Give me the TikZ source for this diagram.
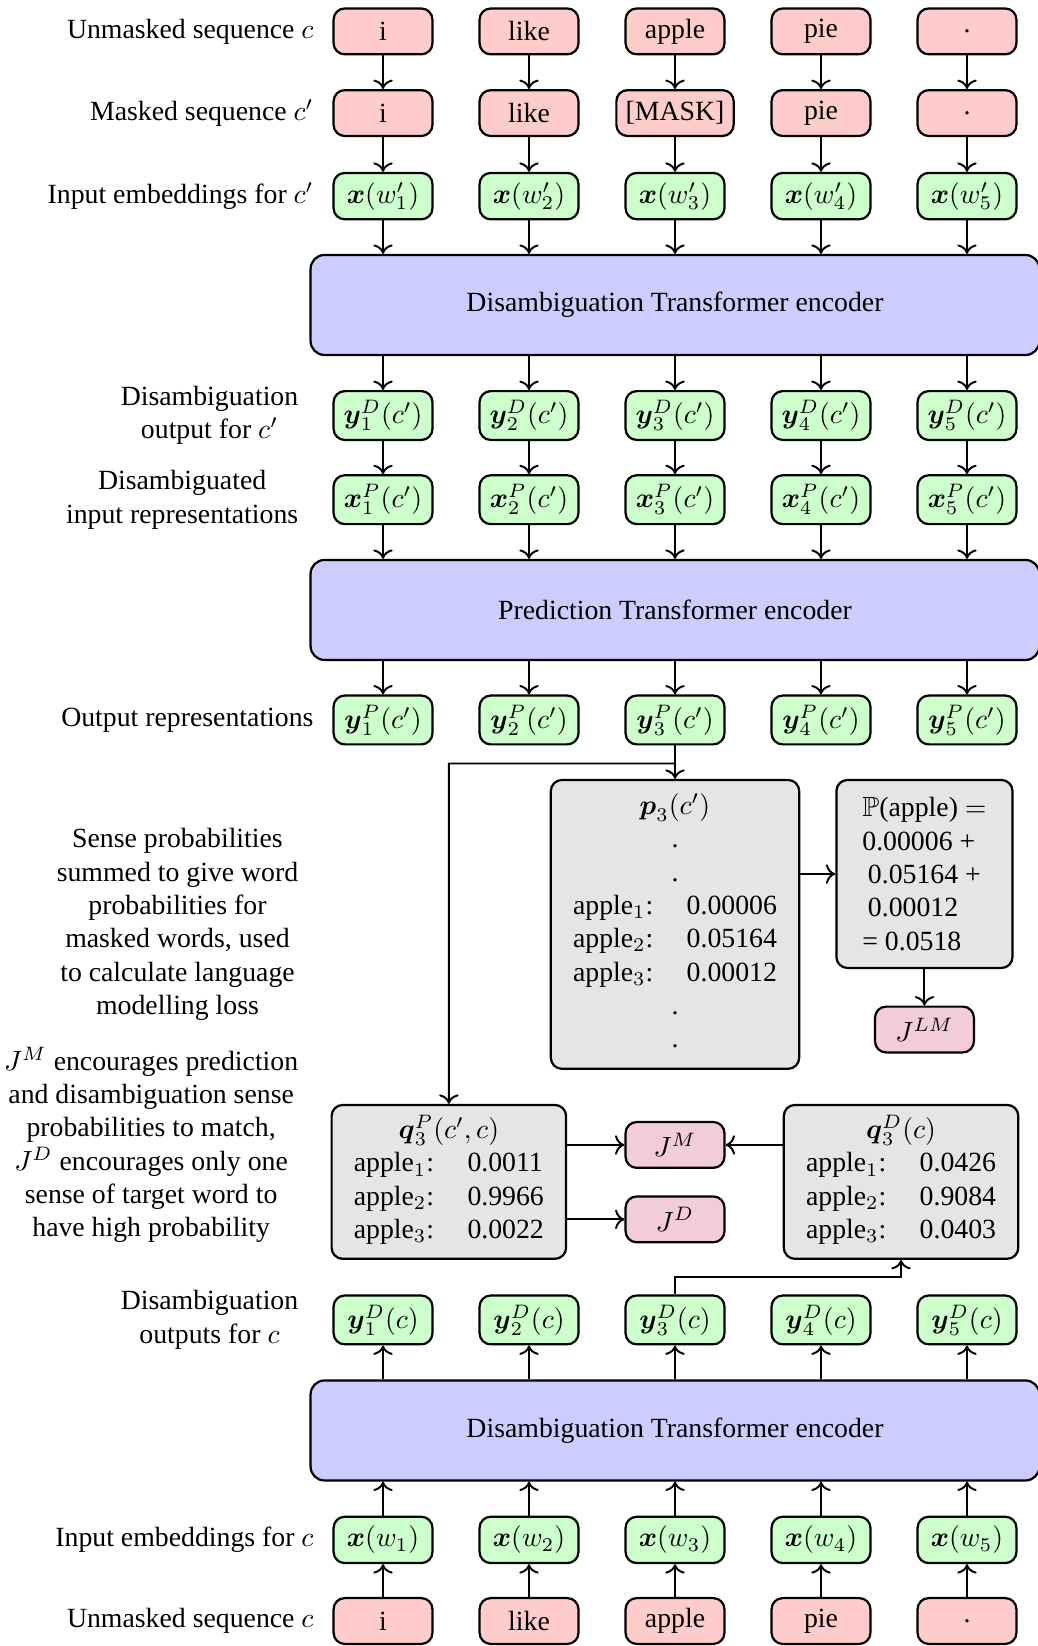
\documentclass[tikz,border=0pt]{standalone}
\usepackage{amsmath}
\usepackage{amssymb}
\usepackage{fontspec}
\setmainfont{Liberation Serif}
\usepackage{xcolor}
\usetikzlibrary{calc}
\usetikzlibrary{arrows.meta}
\usetikzlibrary{positioning}
\definecolor{clword}{rgb}{1,0.8,0.8}
\definecolor{clvec}{rgb}{0.8,1,0.8}
\definecolor{clenc}{rgb}{0.8,0.8,1}
\definecolor{clprob}{gray}{0.9}
\definecolor{clloss}{rgb}{0.95,0.8,0.85}
\tikzstyle{wordblock} = [thick, rectangle, rounded corners, draw, fill=clword, minimum width=35.6pt, minimum height=16.5pt]
\tikzstyle{vecblock} = [thick, rectangle, rounded corners, draw, fill=clvec, minimum width=35.6pt, minimum height=16.5pt]
\tikzstyle{encoder} = [thick, rectangle, rounded corners=5pt, draw, fill=clenc, minimum width=262.4pt, minimum height=36pt]
\tikzstyle{probblock} = [thick, rectangle, rounded corners, draw, fill=clprob, inner sep=2pt]
\tikzstyle{lossblock} = [thick, rectangle, rounded corners, draw, fill=clloss, minimum width=35.6pt, minimum height=16.5pt]
\tikzstyle{sidenote} = [inner sep=3.33pt]
\tikzstyle{line} = [draw, -{To[length=3.4pt, width=7pt]}, line width=0.7pt]

\begin{document}
\begin{tikzpicture}[node distance = 52.56pt, auto]
    \useasboundingbox (0,0) rectangle (373.7pt,-592.6pt);

    \node [wordblock] at (137.9pt,-11.3pt) (u1) {i};
    \node [wordblock, right of=u1] (u2) {like};
    \node [wordblock, right of=u2] (u3) {apple};
    \node [wordblock, right of=u3] (u4) {pie};
    \node [wordblock, right of=u4] (u5) {.};

    \node [wordblock, on grid, below=29.4pt of u1] (m1) {i};
    \node [wordblock, right of=m1] (m2) {like};
    \node [wordblock, right of=m2] (m3) {[MASK]};
    \node [wordblock, right of=m3] (m4) {pie};
    \node [wordblock, right of=m4] (m5) {.};

    \node [vecblock, on grid, below=29.9pt of m1] (e1) {$\boldsymbol{x}(w'_1)$};
    \node [vecblock, right of=e1] (e2) {$\boldsymbol{x}(w'_2)$};
    \node [vecblock, right of=e2] (e3) {$\boldsymbol{x}(w'_3)$};
    \node [vecblock, right of=e3] (e4) {$\boldsymbol{x}(w'_4)$};
    \node [vecblock, right of=e4] (e5) {$\boldsymbol{x}(w'_5)$};

    \node [encoder, on grid, below=39.2pt of e3] (dte) {Disambiguation Transformer encoder};

    \node [vecblock, on grid, below=79pt of e1] (yd1) {$\boldsymbol{y}^D_1(c')$};
    \node [vecblock, right of=yd1] (yd2) {$\boldsymbol{y}^D_2(c')$};
    \node [vecblock, right of=yd2] (yd3) {$\boldsymbol{y}^D_3(c')$};
    \node [vecblock, right of=yd3] (yd4) {$\boldsymbol{y}^D_4(c')$};
    \node [vecblock, right of=yd4] (yd5) {$\boldsymbol{y}^D_5(c')$};

    \node [vecblock, on grid, below=30.3pt of yd1] (xp1) {$\boldsymbol{x}^P_1(c')$};
    \node [vecblock, right of=xp1] (xp2) {$\boldsymbol{x}^P_2(c')$};
    \node [vecblock, right of=xp2] (xp3) {$\boldsymbol{x}^P_3(c')$};
    \node [vecblock, right of=xp3] (xp4) {$\boldsymbol{x}^P_4(c')$};
    \node [vecblock, right of=xp4] (xp5) {$\boldsymbol{x}^P_5(c')$};

    \node [encoder, on grid, below=39.7pt of xp3] (pte) {Prediction Transformer encoder};

    \node [vecblock, on grid, below=79.3pt of xp1] (yp1) {$\boldsymbol{y}^P_1(c')$};
    \node [vecblock, right of=yp1] (yp2) {$\boldsymbol{y}^P_2(c')$};
    \node [vecblock, right of=yp2] (yp3) {$\boldsymbol{y}^P_3(c')$};
    \node [vecblock, right of=yp3] (yp4) {$\boldsymbol{y}^P_4(c')$};
    \node [vecblock, right of=yp4] (yp5) {$\boldsymbol{y}^P_5(c')$};

    \node [probblock, minimum width=88.6pt, minimum height=104pt, on grid, below=73.6pt of yp3] (probs) {
        \begin{tabular}{ll}
        \multicolumn{2}{c}{$\boldsymbol{p}_3(c')$}\\
        \multicolumn{2}{c}{.}\\
        \multicolumn{2}{c}{.}\\
        apple$_1$: & 0.00006\\
        apple$_2$: & 0.05164\\
        apple$_3$: & 0.00012\\
        \multicolumn{2}{c}{.}\\
        \multicolumn{2}{c}{.}
        \end{tabular}};
    \node [probblock, anchor=north west, minimum width=63.4pt, minimum height=67.7pt, align=left] at ([xshift=12.6pt]probs.north east) (papple) {$\mathbb{P}$(apple) $=$\\0.00006 +\\\hspace{2pt}0.05164 +\\\hspace{2pt}0.00012\\= 0.0518};
    \node [lossblock, below=13.1pt of papple] (jlm) {$J^{LM}$};

    \node [probblock, minimum width=83.5pt, minimum height=55.4pt] at (161.6pt,-425.5pt) (qp) {
        \begin{tabular}{ll}
        \multicolumn{2}{c}{$\boldsymbol{q}^P_3(c',c)$}\\
        apple$_1$: & 0.0011\\
        apple$_2$: & 0.9966\\
        apple$_3$: & 0.0022
        \end{tabular}};
    \node [probblock, minimum width=83.5pt, minimum height=55.4pt, on grid, right=162.8pt of qp] (qd) {
        \begin{tabular}{ll}
        \multicolumn{2}{c}{$\boldsymbol{q}^D_3(c)$}\\
        apple$_1$: & 0.0426\\
        apple$_2$: & 0.9084\\
        apple$_3$: & 0.0403
        \end{tabular}};
    \node [lossblock, on grid, below=153pt of yp3] (jm) {$J^M$};
    \node [lossblock, on grid, below=26.8pt of jm] (jd) {$J^D$};

    \node [vecblock, on grid, below=216pt of yp1] (ydc1) {$\boldsymbol{y}^D_1(c)$};
    \node [vecblock, right of=ydc1] (ydc2) {$\boldsymbol{y}^D_2(c)$};
    \node [vecblock, right of=ydc2] (ydc3) {$\boldsymbol{y}^D_3(c)$};
    \node [vecblock, right of=ydc3] (ydc4) {$\boldsymbol{y}^D_4(c)$};
    \node [vecblock, right of=ydc4] (ydc5) {$\boldsymbol{y}^D_5(c)$};

    \node [encoder, on grid, below=39.8pt of ydc3] (dte2) {Disambiguation Transformer encoder};

    \node [vecblock, on grid, below=79.2pt of ydc1] (ec1) {$\boldsymbol{x}(w_1)$};
    \node [vecblock, right of=ec1] (ec2) {$\boldsymbol{x}(w_2)$};
    \node [vecblock, right of=ec2] (ec3) {$\boldsymbol{x}(w_3)$};
    \node [vecblock, right of=ec3] (ec4) {$\boldsymbol{x}(w_4)$};
    \node [vecblock, right of=ec4] (ec5) {$\boldsymbol{x}(w_5)$};

    \node [wordblock, on grid, below=29.2pt of ec1] (uc1) {i};
    \node [wordblock, right of=uc1] (uc2) {like};
    \node [wordblock, right of=uc2] (uc3) {apple};
    \node [wordblock, right of=uc3] (uc4) {pie};
    \node [wordblock, right of=uc4] (uc5) {.};

    % row captions
    \node [sidenote, left=3.3pt of u1] (lu) {Unmasked sequence $c$};
    \node [sidenote, left=3.3pt of m1] (lm) {Masked sequence $c'$};
    \node [sidenote, left=3.3pt of e1] (le) {Input embeddings for $c'$};
    \node [sidenote, align=center, left=8.8pt of yd1] (lyd) {Disambiguation\\output for $c'$};
    \node [sidenote, align=center, left=8.8pt of xp1] (lxp) {Disambiguated\\input representations};
    \node [sidenote, left=3.3pt of yp1] (lyp) {Output representations};
    \coordinate (senseat) at (yp1.west |- probs);
    \node [sidenote, align=center, left=8.8pt of senseat] (lsense) {Sense probabilities\\summed to give word\\probabilities for\\masked words, used\\to calculate language\\modelling loss};
    \coordinate (lossat) at (ydc1.west |- jm);
    \node [sidenote, align=center, left=8.8pt of lossat] (lloss) {$J^M$ encourages prediction\\and disambiguation sense\\probabilities to match,\\$J^D$ encourages only one\\sense of target word to\\have high probability};
    \node [sidenote, align=center, left=8.8pt of ydc1] (lydc) {Disambiguation\\outputs for $c$};
    \node [sidenote, left=3.3pt of ec1] (lec) {Input embeddings for $c$};
    \node [sidenote, left=3.3pt of uc1] (luc) {Unmasked sequence $c$};

    \path [line] (u1) -- (m1);
    \path [line] (u2) -- (m2);
    \path [line] (u3) -- (m3);
    \path [line] (u4) -- (m4);
    \path [line] (u5) -- (m5);
    \path [line] (m1) -- (e1);
    \path [line] (m2) -- (e2);
    \path [line] (m3) -- (e3);
    \path [line] (m4) -- (e4);
    \path [line] (m5) -- (e5);
    \path [line] (e1) -- (e1 |- dte.north);
    \path [line] (e2) -- (e2 |- dte.north);
    \path [line] (e3) -- (e3 |- dte.north);
    \path [line] (e4) -- (e4 |- dte.north);
    \path [line] (e5) -- (e5 |- dte.north);

    \path [line] (yd1 |- dte.south) -- (yd1);
    \path [line] (yd2 |- dte.south) -- (yd2);
    \path [line] (yd3 |- dte.south) -- (yd3);
    \path [line] (yd4 |- dte.south) -- (yd4);
    \path [line] (yd5 |- dte.south) -- (yd5);
    \path [line] (yd1) -- (xp1);
    \path [line] (yd2) -- (xp2);
    \path [line] (yd3) -- (xp3);
    \path [line] (yd4) -- (xp4);
    \path [line] (yd5) -- (xp5);
    \path [line] (xp1) -- (xp1 |- pte.north);
    \path [line] (xp2) -- (xp2 |- pte.north);
    \path [line] (xp3) -- (xp3 |- pte.north);
    \path [line] (xp4) -- (xp4 |- pte.north);
    \path [line] (xp5) -- (xp5 |- pte.north);
    \path [line] (yp1 |- pte.south) -- (yp1);
    \path [line] (yp2 |- pte.south) -- (yp2);
    \path [line] (yp3 |- pte.south) -- (yp3);
    \path [line] (yp4 |- pte.south) -- (yp4);
    \path [line] (yp5 |- pte.south) -- (yp5);

    \path [line] (yp3) -- (probs);
    \path [line] (yp3.south) -- ($(yp3.south)!0.54!(probs.north)$) -| (qp);
    \path [line] (probs.east |- papple) -- (papple);
    \path [line] (papple) -- (jlm);
    \path [line] (qp.east |- jm) -- (jm);
    \path [line] (qp.east |- jd) -- (jd);
    \path [line] (qd.west |- jm) -- (jm);
    \path [line] (ydc3.north) -- ($(ydc3.north)!0.5!(ydc3.north |- qd.south)$) -| (qd);

    \path [line] (ydc1 |- dte2.north) -- (ydc1);
    \path [line] (ydc2 |- dte2.north) -- (ydc2);
    \path [line] (ydc3 |- dte2.north) -- (ydc3);
    \path [line] (ydc4 |- dte2.north) -- (ydc4);
    \path [line] (ydc5 |- dte2.north) -- (ydc5);
    \path [line] (ec1) -- (ec1 |- dte2.south);
    \path [line] (ec2) -- (ec2 |- dte2.south);
    \path [line] (ec3) -- (ec3 |- dte2.south);
    \path [line] (ec4) -- (ec4 |- dte2.south);
    \path [line] (ec5) -- (ec5 |- dte2.south);
    \path [line] (uc1) -- (ec1);
    \path [line] (uc2) -- (ec2);
    \path [line] (uc3) -- (ec3);
    \path [line] (uc4) -- (ec4);
    \path [line] (uc5) -- (ec5);

\end{tikzpicture}
\end{document}
